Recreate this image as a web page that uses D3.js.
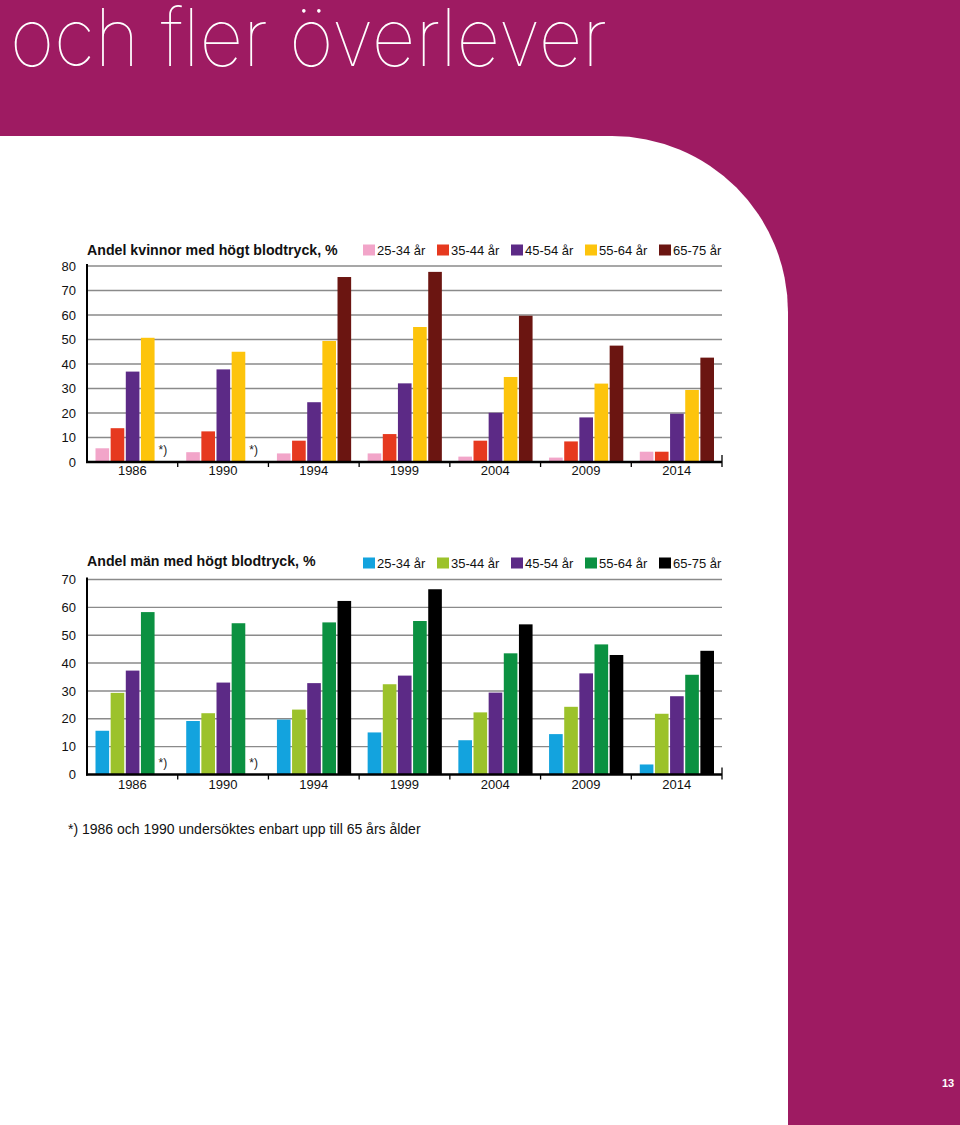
<!DOCTYPE html>
<html><head><meta charset="utf-8">
<script src="https://cdn.jsdelivr.net/npm/d3@7"></script>
<style>
html,body{margin:0;padding:0;background:#9e1b62;}
svg{display:block;}
</style></head>
<body>
<svg id="c" width="960" height="1125"></svg>
<script>
const years = ["1986","1990","1994","1999","2004","2009","2014"];
const ageGroups = ["25-34 år","35-44 år","45-54 år","55-64 år","65-75 år"];
// Women (null = not examined)
const w2534 = [5.6, 4.0, 3.5, 3.5, 2.2, 1.8, 4.2];
const w3544 = [13.8, 12.5, 8.7, 11.4, 8.7, 8.4, 4.2];
const w4554 = [36.9, 37.8, 24.4, 32.1, 20.1, 18.2, 19.7];
const w5564 = [50.7, 45.0, 49.4, 55.1, 34.7, 32.0, 29.4];
const w6575 = [null, null, 75.5, 77.6, 59.7, 47.5, 42.6];
// Men
const m2534 = [15.7, 19.2, 19.7, 15.1, 12.3, 14.5, 3.6];
const m3544 = [29.3, 22.0, 23.3, 32.4, 22.3, 24.3, 21.8];
const m4554 = [37.3, 33.0, 32.8, 35.5, 29.4, 36.3, 28.1];
const m5564 = [58.3, 54.3, 54.6, 55.1, 43.5, 46.7, 35.8];
const m6575 = [null, null, 62.3, 66.5, 53.9, 42.9, 44.4];
const womenTicks = [0,10,20,30,40,50,60,70,80];
const menTicks = [0,10,20,30,40,50,60,70];
const womenColors = ["#f2a5c9","#e6391f","#5c2a86","#fdc40c","#6b1511"];
const menColors = ["#13a3de","#9cc22b","#5c2a86","#0b9141","#000000"];
const titleW = "Andel kvinnor med högt blodtryck, %";
const titleM = "Andel män med högt blodtryck, %";
const footnote = "*) 1986 och 1990 undersöktes enbart upp till 65 års ålder";

const svg = d3.select("#c");
const MAG = "#9e1b62";
svg.append("rect").attr("width",960).attr("height",1125).attr("fill",MAG);
const R = 176;
svg.append("path")
  .attr("d", `M0,136 L${788-R},136 A${R},${R} 0 0 1 788,${136+R} L788,1125 L0,1125 Z`)
  .attr("fill","#fff");
svg.append("text").attr("x",10).attr("y",66)
  .attr("fill","#fff")
  .attr("font-family","Inter, Lato, 'Noto Sans', 'Liberation Sans', sans-serif")
  .attr("font-weight",100)
  .attr("font-size",80)
  .attr("textLength",597).attr("lengthAdjust","spacingAndGlyphs")
  .text("och fler överlever");
svg.append("text").attr("x",948).attr("y",1087).attr("text-anchor","middle")
  .attr("fill","#fff").attr("font-family","'Liberation Sans', Arial, sans-serif")
  .attr("font-weight","bold").attr("font-size",11).text("13");

function chart(cfg){
  const g = svg.append("g");
  const x0 = d3.scaleBand().domain(years).range([87, 722]).paddingInner(0).paddingOuter(0);
  const x1 = d3.scaleBand().domain(ageGroups).range([8.5, x0.bandwidth()-8]).paddingInner(0.1).paddingOuter(0);
  const y = d3.scaleLinear().domain([0, cfg.max]).range([cfg.y0, cfg.yTop]);
  const font = "'Liberation Sans', Arial, Helvetica, sans-serif";
  g.selectAll("line.grid").data(cfg.ticks.filter(t=>t>0)).join("line")
    .attr("x1",87).attr("x2",722).attr("y1",d=>y(d)).attr("y2",d=>y(d))
    .attr("stroke","#8a8a8a").attr("stroke-width",1.4);
  g.selectAll("text.yl").data(cfg.ticks).join("text")
    .attr("x",76).attr("y",d=>y(d)).attr("dy","0.36em").attr("text-anchor","end")
    .attr("font-family",font).attr("font-size",13).attr("fill","#111").text(d=>d);
  const rows = years.map((yr,i)=>({yr, vals: cfg.series.map((s,j)=>({k:ageGroups[j], v:s[i], c:cfg.colors[j]}))}));
  const gg = g.selectAll("g.grp").data(rows).join("g").attr("transform",d=>`translate(${x0(d.yr)},0)`);
  gg.selectAll("rect").data(d=>d.vals.filter(v=>v.v!=null)).join("rect")
    .attr("x",d=>x1(d.k)).attr("width",x1.bandwidth())
    .attr("y",d=>y(d.v)).attr("height",d=>y(0)-y(d.v)).attr("fill",d=>d.c);
  gg.selectAll("text.star").data(d=>d.vals.filter(v=>v.v==null)).join("text")
    .attr("x",d=>x1(d.k)+x1.bandwidth()/2).attr("y",y(0)-8)
    .attr("text-anchor","middle").attr("font-family",font).attr("font-size",12).attr("fill","#222")
    .text("*)");
  g.append("line").attr("x1",87).attr("x2",87).attr("y1",cfg.yTop-2).attr("y2",y(0)+1)
    .attr("stroke","#000").attr("stroke-width",2);
  const xa = d3.axisBottom(x0).tickSize(0).tickPadding(cfg.tickPad);
  const ax = g.append("g").attr("transform",`translate(0,${y(0)})`).call(xa);
  ax.select(".domain").remove();
  ax.selectAll("text").attr("font-family",font).attr("font-size",13).attr("fill","#111");
  g.append("line").attr("x1",86).attr("x2",722).attr("y1",y(0)).attr("y2",y(0))
    .attr("stroke","#000").attr("stroke-width",2.6);
  const bounds = years.slice(1).map(yr=>x0(yr)).concat([722]);
  g.selectAll("line.bt").data(bounds).join("line")
    .attr("x1",d=>d).attr("x2",d=>d).attr("y1",(d,i)=>i===bounds.length-1? y(0)-7 : y(0)).attr("y2",y(0)+5)
    .attr("stroke","#000").attr("stroke-width",1.3);
  g.append("text").attr("x",87).attr("y",cfg.legendY).attr("dy","0.35em")
    .attr("font-family",font).attr("font-weight","bold").attr("font-size",14.2).attr("fill","#111")
    .text(cfg.title);
  const lg = g.selectAll("g.lg").data(ageGroups).join("g")
    .attr("transform",(d,i)=>`translate(${363+i*74},${cfg.legendY+cfg.legendDy})`);
  lg.append("rect").attr("x",0).attr("y",-5.5).attr("width",12).attr("height",11)
    .attr("fill",(d,i)=>cfg.colors[i]);
  lg.append("text").attr("x",14).attr("y",0).attr("dy","0.36em")
    .attr("font-family",font).attr("font-size",13).attr("fill","#111").text(d=>d);
}

chart({series:[w2534,w3544,w4554,w5564,w6575], colors:womenColors, ticks:womenTicks, max:80,
       y0:462, yTop:266, legendY:250, legendDy:0, tickPad:4, title:titleW});
chart({series:[m2534,m3544,m4554,m5564,m6575], colors:menColors, ticks:menTicks, max:70,
       y0:774.5, yTop:579.5, legendY:561, legendDy:2, tickPad:5, title:titleM});

svg.append("text").attr("x",68).attr("y",829).attr("dy","0.35em")
  .attr("font-family","'Liberation Sans', Arial, sans-serif").attr("font-size",14).attr("fill","#111")
  .text(footnote);
</script>
</body></html>
